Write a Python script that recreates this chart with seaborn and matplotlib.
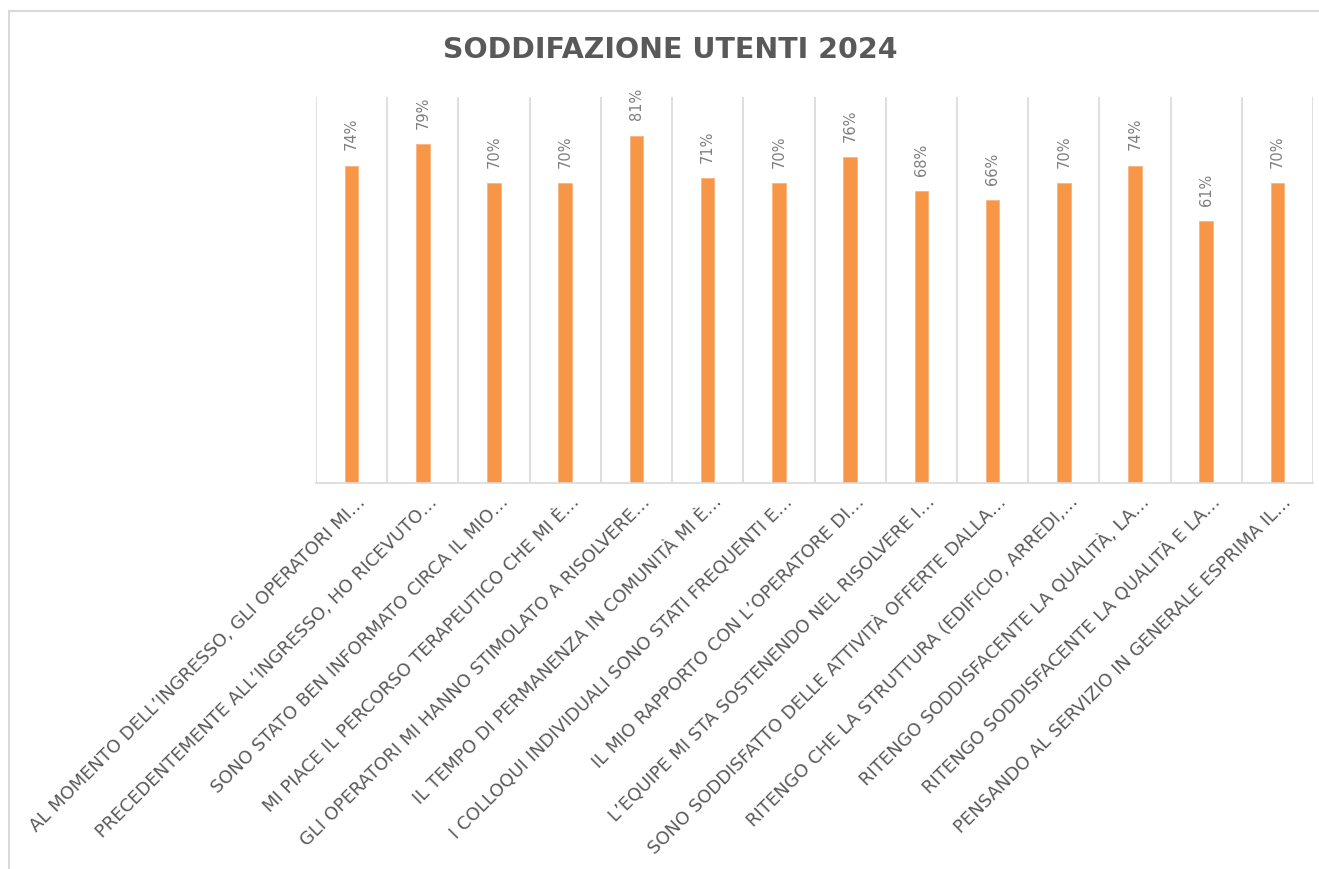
import matplotlib
matplotlib.use("Agg")
import matplotlib.pyplot as plt
import matplotlib.patches as mpatches
import matplotlib.transforms as mtransforms
import seaborn as sns
import pandas as pd

categories = [
    "AL MOMENTO DELL’INGRESSO, GLI OPERATORI MI…",
    "PRECEDENTEMENTE ALL’INGRESSO, HO RICEVUTO…",
    "SONO STATO BEN INFORMATO CIRCA IL MIO…",
    "MI PIACE IL PERCORSO TERAPEUTICO CHE MI È…",
    "GLI OPERATORI MI HANNO STIMOLATO A RISOLVERE…",
    "IL TEMPO DI PERMANENZA IN COMUNITÀ MI È…",
    "I COLLOQUI INDIVIDUALI SONO STATI FREQUENTI E…",
    "IL MIO RAPPORTO CON L’OPERATORE DI…",
    "L’EQUIPE MI STA SOSTENENDO NEL RISOLVERE I…",
    "SONO SODDISFATTO DELLE ATTIVITÀ OFFERTE DALLA…",
    "RITENGO CHE LA STRUTTURA (EDIFICIO, ARREDI,…",
    "RITENGO SODDISFACENTE LA QUALITÀ, LA…",
    "RITENGO SODDISFACENTE LA QUALITÀ E LA…",
    "PENSANDO AL SERVIZIO IN GENERALE ESPRIMA IL…",
]
values = [74, 79, 70, 70, 81, 71, 70, 76, 68, 66, 70, 74, 61, 70]
value_labels = [f"{v}%" for v in values]
title = "SODDIFAZIONE UTENTI 2024"

BAR = "#F79646"
GRID = "#D9D9D9"
TXT = "#595959"
VAL = "#7F7F7F"

sns.set_theme(style="white")
plt.rcParams["font.family"] = ["DejaVu Sans"]

fig = plt.figure(figsize=(13.19, 8.69), dpi=100)
W, H = 1319, 869
ax = fig.add_axes([316 / W, 1 - 483 / H, (1313 - 316) / W, (483 - 97) / H])

df = pd.DataFrame({"cat": categories, "val": [v / 100 for v in values]})
sns.barplot(data=df, x="cat", y="val", color=BAR, saturation=1, width=0.19,
            edgecolor="#FAB47E", linewidth=0.6, ax=ax)

ax.set_ylim(0, 0.9)
ax.set_xlim(-0.5, len(categories) - 0.5)
ax.set_xlabel("")
ax.set_ylabel("")
ax.set_yticks([])

# category separators (vertical gridlines)
ax.set_xticks([i - 0.5 for i in range(len(categories) + 1)], minor=True)
ax.grid(which="minor", axis="x", color=GRID, linewidth=1.2)
ax.grid(which="major", visible=False)
ax.tick_params(which="both", length=0)
ax.set_axisbelow(True)

for s in ["left", "right", "top"]:
    ax.spines[s].set_visible(False)
ax.spines["bottom"].set_color(GRID)
ax.spines["bottom"].set_linewidth(1.2)

ax.set_xticks(range(len(categories)))
ax.set_xticklabels(categories, rotation=45, ha="right", va="top",
                   rotation_mode="anchor", fontsize=13, color=TXT)
ax.tick_params(axis="x", which="major", pad=7)
offset = mtransforms.ScaledTranslation(5 / 100, 0, fig.dpi_scale_trans)
for lab in ax.get_xticklabels():
    lab.set_transform(lab.get_transform() + offset)

ax.bar_label(ax.containers[0], labels=value_labels, rotation=90, padding=11,
             fontsize=10.5, color=VAL)

fig.text(670 / W, 1 - 50 / H, title, ha="center", va="center",
         fontsize=20.5, fontweight="bold", color=TXT)

border = mpatches.Rectangle((9 / W, -0.05), 1.2, 1.05 - 11 / H,
                            transform=fig.transFigure, fill=False,
                            edgecolor=GRID, linewidth=1.5)
fig.patches.append(border)

fig.savefig("out.png", dpi=100, facecolor="white")
